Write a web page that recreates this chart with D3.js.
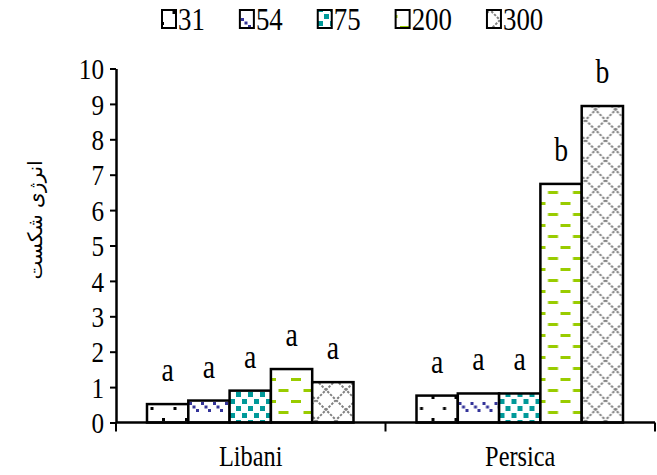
<!DOCTYPE html>
<html><head><meta charset="utf-8">
<script src="https://cdn.jsdelivr.net/npm/d3@7"></script>
<style>body{margin:0;background:#fff}svg{display:block}</style>
</head><body>
<script>
const categories = ["Libani", "Persica"];
const series = ["31", "54", "75", "200", "300"];
const valuesLibani = [0.52, 0.62, 0.90, 1.51, 1.14];
const valuesPersica = [0.76, 0.82, 0.82, 6.74, 8.94];
const lettersLibani = ["a", "a", "a", "a", "a"];
const lettersPersica = ["a", "a", "a", "b", "b"];
const yTicks = [0, 1, 2, 3, 4, 5, 6, 7, 8, 9, 10];
const yTitle = "انرژی شکست";

const values = {Libani: valuesLibani, Persica: valuesPersica};
const letters = {Libani: lettersLibani, Persica: lettersPersica};

const W = 657, H = 475, SX = 0.84;
const FONT = "'Liberation Serif','Times New Roman',serif";
const svg = d3.select("body").append("svg").attr("width", W).attr("height", H);
const defs = svg.append("defs");

function pat(id, w, h) {
  const p = defs.append("pattern").attr("id", id).attr("patternUnits", "userSpaceOnUse")
    .attr("width", w).attr("height", h);
  p.append("rect").attr("width", w).attr("height", h).attr("fill", "#fff");
  return p;
}
let p = pat("p31", 23, 22);
p.append("rect").attr("x", 0).attr("y", 0).attr("width", 3).attr("height", 3).attr("fill", "#000");
p.append("rect").attr("x", 11.5).attr("y", 11).attr("width", 3).attr("height", 3).attr("fill", "#000");
p = pat("p54", 12, 24).attr("patternTransform", "translate(0,16)");
[[1,2],[4.5,5.5],[8,9]].forEach(([a,b]) => p.append("rect").attr("x", a).attr("y", b).attr("width", 3).attr("height", 3).attr("fill", "#333399"));
p = pat("p75", 12, 14);
p.append("rect").attr("x", 0).attr("y", 0).attr("width", 5).attr("height", 5).attr("fill", "#009999");
p.append("rect").attr("x", 6).attr("y", 7).attr("width", 5).attr("height", 5).attr("fill", "#009999");
p = pat("p200", 25, 22);
p.append("rect").attr("x", 0).attr("y", 4).attr("width", 10).attr("height", 3).attr("fill", "#99cc00");
p.append("rect").attr("x", 12.5).attr("y", 15).attr("width", 10).attr("height", 3).attr("fill", "#99cc00");
p = pat("p300", 20, 20);
p.append("path").attr("d", "M0,0L20,20M20,0L0,20").attr("stroke", "#808080").attr("stroke-width", 2).attr("stroke-dasharray", "2.5,1.5");
const patIds = ["p31", "p54", "p75", "p200", "p300"];

const y = d3.scaleLinear().domain([0, 10]).range([422.5, 68.5]);
const x0 = d3.scaleBand().domain(categories).range([116, 655]).paddingInner(0).paddingOuter(0);
const x1 = d3.scaleBand().domain(series).range([31, 237.5]);

const groups = svg.append("g").selectAll("g").data(categories).join("g")
  .attr("transform", c => `translate(${x0(c)},0)`);
groups.selectAll("rect").data(c => series.map((s, i) => ({s, i, v: values[c][i]})))
  .join("rect")
  .attr("x", d => x1(d.s)).attr("width", x1.bandwidth())
  .attr("y", d => y(d.v)).attr("height", d => y(0) - y(d.v))
  .attr("fill", d => `url(#${patIds[d.i]})`).attr("stroke", "#000").attr("stroke-width", 2.5);
groups.selectAll("text").data(c => series.map((s, i) => ({s, i, v: values[c][i], l: letters[c][i]})))
  .join("text")
  .attr("transform", d => `translate(${x1(d.s) + x1.bandwidth() / 2},${y(d.v) - 23}) scale(${SX},1)`)
  .attr("text-anchor", "middle").attr("font-family", FONT).attr("font-size", 33).text(d => d.l);

const ya = svg.append("g").attr("transform", "translate(116,0)")
  .call(d3.axisLeft(y).tickValues(yTicks).tickSize(6).tickSizeOuter(0));
ya.attr("font-family", null).attr("font-size", null);
ya.select(".domain").attr("stroke-width", 2.5);
ya.selectAll(".tick line").attr("stroke-width", 2);
ya.selectAll(".tick text").attr("font-family", FONT).attr("font-size", 30).attr("fill", "#000")
  .attr("x", -12 / SX).attr("transform", `scale(${SX},1)`).attr("dy", "0.34em");

const xa = svg.append("g");
xa.append("line").attr("x1", 116).attr("x2", 655).attr("y1", y(0)).attr("y2", y(0))
  .attr("stroke", "#000").attr("stroke-width", 2.5);
const bounds = categories.map(c => x0(c)).concat([x0.range()[1]]);
xa.selectAll("line.t").data(bounds).join("line").attr("class", "t")
  .attr("x1", d => d).attr("x2", d => d).attr("y1", y(0)).attr("y2", y(0) + 9)
  .attr("stroke", "#000").attr("stroke-width", 2);
xa.selectAll("text").data(categories).join("text")
  .attr("transform", c => `translate(${x0(c) + x0.bandwidth() / 2},466) scale(${SX},1)`)
  .attr("text-anchor", "middle").attr("font-family", FONT).attr("font-size", 29).text(c => c);

svg.append("text").attr("transform", "translate(36,220) rotate(-90)")
  .attr("text-anchor", "middle").attr("dominant-baseline", "middle")
  .attr("font-family", "'DejaVu Sans',sans-serif").attr("font-size", 20).text(yTitle);

const lg = svg.append("g");
let lx = 162;
series.forEach((s, i) => {
  lg.append("rect").attr("x", lx).attr("y", 10).attr("width", 14).attr("height", 18)
    .attr("fill", `url(#${patIds[i]})`).attr("stroke", "#000").attr("stroke-width", 2);
  const t = lg.append("text").attr("transform", `translate(${lx + 16},30) scale(${SX},1)`)
    .attr("font-family", FONT).attr("font-size", 32).text(s);
  const tw = t.node().getComputedTextLength() * SX;
  lx += 16 + tw + 35;
});
</script>
</body></html>
